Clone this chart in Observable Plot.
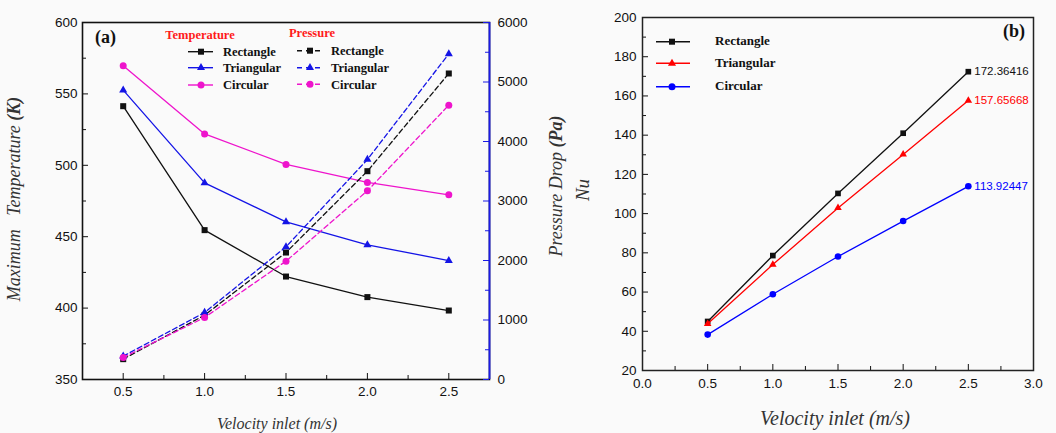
<!DOCTYPE html>
<html><head><meta charset="utf-8">
<script src="https://cdn.jsdelivr.net/npm/d3@7"></script>
<script src="https://cdn.jsdelivr.net/npm/@observablehq/plot@0.6"></script>
<style>
body{margin:0;background:#fafafa;}
#wrap{position:relative;width:1056px;height:433px;overflow:hidden;}
.abs{position:absolute;}
#over{position:absolute;left:0;top:0;pointer-events:none;}
</style></head><body>
<div id="wrap">
  <div id="pa" class="abs" style="left:0;top:0;width:532px;height:433px;overflow:hidden"></div>
  <div id="pb" class="abs" style="left:530px;top:0;width:526px;height:433px"></div>
</div>
<script>
// ---------- data ----------
const velocity = [0.5, 1.0, 1.5, 2.0, 2.5];
const shapes = ["Rectangle", "Triangular", "Circular"];

const tempRect = [541.4, 454.6, 422.1, 407.7, 398.3];
const tempTri  = [552.6, 487.7, 460.4, 444.3, 433.3];
const tempCirc = [569.7, 522.0, 500.6, 488.0, 479.3];

const presRect = [342, 1081, 2134, 3501, 5143];
const presTri  = [392, 1126, 2230, 3697, 5473];
const presCirc = [370, 1042, 1989, 3171, 4611];

const nuRect = [45.0, 78.6, 110.3, 141.0, 172.36416];
const nuTri  = [43.8, 74.0, 102.9, 130.2, 157.65668];
const nuCirc = [38.3, 58.9, 78.1, 96.2, 113.92447];

const xTicksA = [0.5, 1.0, 1.5, 2.0, 2.5];
const xMinorA = [0.75, 1.25, 1.75, 2.25];
const tempTicks = [350, 400, 450, 500, 550, 600];
const tempMinor = [375, 425, 475, 525, 575];
const presTicks = [0, 1000, 2000, 3000, 4000, 5000, 6000];
const presMinor = [500, 1500, 2500, 3500, 4500, 5500];
const xTicksB = [0.0, 0.5, 1.0, 1.5, 2.0, 2.5, 3.0];
const xMinorB = [0.25, 0.75, 1.25, 1.75, 2.25, 2.75];
const nuTicks = [20, 40, 60, 80, 100, 120, 140, 160, 180, 200];
const nuMinor = [30, 50, 70, 90, 110, 130, 150, 170, 190];

// ---------- styles ----------
const symbols = ["square", "triangle", "circle"];
const symR = {square: 3.4, triangle: 3.0, circle: 3.5};
const colorsA = ["#111111", "#1414e6", "#ee14cc"];
const colorsB = ["#111111", "#ff0000", "#0000ff"];
const blue = "#1a1ae6";
const rows = vals => velocity.map((v, i) => ({v, y: vals[i]}));

const baseStyle = {fontFamily: '"Liberation Sans", Arial, sans-serif', fontSize: "13.5px", color: "#111", background: "transparent", overflow: "visible"};

// ---------- panel (a) ----------
const WA = 530, HA = 433, mA = {top: 22, right: 41, bottom: 54, left: 82};
const fwA = WA - mA.left - mA.right, fhA = HA - mA.top - mA.bottom;
const xDomainA = [0.25, 2.75];

const tempSeries = [tempRect, tempTri, tempCirc];
const presSeries = [presRect, presTri, presCirc];

const plotA = Plot.plot({
  width: WA, height: HA,
  marginTop: mA.top, marginRight: mA.right, marginBottom: mA.bottom, marginLeft: mA.left,
  x: {domain: xDomainA}, y: {domain: [350, 600]},
  style: baseStyle,
  marks: [
    Plot.axisX({ticks: xTicksA, tickSize: 0, tickPadding: 7, tickFormat: d3.format(".1f"), label: null}),
    Plot.axisY({ticks: tempTicks, tickSize: 0, tickPadding: 5, label: null}),
    Plot.tickY(tempTicks, {y: d => d, insetRight: fwA - 6, stroke: "#111"}),
    Plot.tickY(tempMinor, {y: d => d, insetRight: fwA - 4, stroke: "#111"}),
    Plot.tickX(xTicksA, {x: d => d, insetTop: fhA - 6, stroke: "#111"}),
    Plot.tickX(xMinorA, {x: d => d, insetTop: fhA - 4, stroke: "#111"}),
    ...tempSeries.flatMap((vals, k) => [
      Plot.line(rows(vals), {x: "v", y: "y", stroke: colorsA[k], strokeWidth: 1.3}),
      Plot.dot(rows(vals), {x: "v", y: "y", symbol: symbols[k], r: symR[symbols[k]], fill: colorsA[k]})
    ]),
    Plot.frame({stroke: "#111", strokeWidth: 1.6})
  ]
});

const plotA2 = Plot.plot({
  width: WA, height: HA,
  marginTop: mA.top, marginRight: mA.right, marginBottom: mA.bottom, marginLeft: mA.left,
  x: {domain: xDomainA, axis: null}, y: {domain: [0, 6000]},
  style: baseStyle,
  marks: [
    Plot.axisY({anchor: "right", ticks: presTicks, tickSize: 0, tickPadding: 8, tickFormat: d3.format("d"), label: null}),
    Plot.tickY(presTicks, {y: d => d, insetLeft: fwA - 6, stroke: blue}),
    Plot.tickY(presMinor, {y: d => d, insetLeft: fwA - 4, stroke: blue}),
    ...presSeries.flatMap((vals, k) => [
      Plot.line(rows(vals), {x: "v", y: "y", stroke: colorsA[k], strokeWidth: 1.3, strokeDasharray: "5,3"}),
      Plot.dot(rows(vals), {x: "v", y: "y", symbol: symbols[k], r: symR[symbols[k]], fill: colorsA[k]})
    ]),
    Plot.ruleX([xDomainA[1]], {stroke: blue, strokeWidth: 1.8})
  ]
});
plotA.style.position = "absolute"; plotA.style.left = "0"; plotA.style.top = "0";
plotA2.style.position = "absolute"; plotA2.style.left = "0"; plotA2.style.top = "0";
document.getElementById("pa").append(plotA, plotA2);

// ---------- panel (b) ----------
const WB = 526, HB = 433, mB = {top: 17, right: 23, bottom: 63, left: 112};
const fwB = WB - mB.left - mB.right, fhB = HB - mB.top - mB.bottom;
const nuSeries = [nuRect, nuTri, nuCirc];

const plotB = Plot.plot({
  width: WB, height: HB,
  marginTop: mB.top, marginRight: mB.right, marginBottom: mB.bottom, marginLeft: mB.left,
  x: {domain: [0, 3]}, y: {domain: [20, 200]},
  style: baseStyle,
  marks: [
    Plot.axisX({ticks: xTicksB, tickSize: 0, tickPadding: 8, tickFormat: d3.format(".1f"), label: null}),
    Plot.axisY({ticks: nuTicks, tickSize: 0, tickPadding: 6, label: null}),
    Plot.tickY(nuTicks, {y: d => d, insetRight: fwB - 6, stroke: "#111"}),
    Plot.tickY(nuMinor, {y: d => d, insetRight: fwB - 4, stroke: "#111"}),
    Plot.tickX(xTicksB, {x: d => d, insetTop: fhB - 6, stroke: "#111"}),
    Plot.tickX(xMinorB, {x: d => d, insetTop: fhB - 4, stroke: "#111"}),
    ...nuSeries.flatMap((vals, k) => {
      const r = rows(vals);
      return [
        Plot.line(r, {x: "v", y: "y", stroke: colorsB[k], strokeWidth: 1.3}),
        Plot.dot(r, {x: "v", y: "y", symbol: symbols[k], r: symR[symbols[k]] - 0.2, fill: colorsB[k]}),
        Plot.text(r.slice(-1), {x: "v", y: "y", text: d => String(d.y), dx: 6, textAnchor: "start", fill: colorsB[k], fontSize: 11.5})
      ];
    }),
    Plot.frame({stroke: "#222", strokeWidth: 1.5})
  ]
});
document.getElementById("pb").append(plotB);

// ---------- overlay: titles & legends ----------
const svg = d3.select("#wrap").append("svg").attr("id", "over").attr("width", 1056).attr("height", 433);
const serif = '"Liberation Serif", "Times New Roman", serif';

function title(x, y, parts, rotate, size) {
  const t = svg.append("text")
    .attr("transform", `translate(${x},${y})` + (rotate ? " rotate(-90)" : ""))
    .attr("text-anchor", "middle").attr("font-family", serif).attr("font-size", size || 18)
    .attr("font-style", "italic").attr("fill", "#333").style("white-space", "pre");
  parts.forEach(([s, bold]) => t.append("tspan").attr("font-weight", bold ? "bold" : "normal").text(s));
}
title(20, 199, [["Maximum   Temperature ", false], ["(K)", true]], true);
title(562, 186, [["Pressure Drop ", false], ["(Pa)", true]], true);
title(589, 190, [["Nu", false]], true, 19);
title(277, 429, [["Velocity inlet (m/s)", false]], false, 16);
title(835, 425, [["Velocity inlet (m/s)", false]], false, 20);

svg.append("text").attr("x", 95).attr("y", 43).attr("font-family", serif).attr("font-weight", "bold")
  .attr("font-size", 18).attr("fill", "#111").text("(a)");
svg.append("text").attr("x", 1003).attr("y", 37).attr("font-family", serif).attr("font-weight", "bold")
  .attr("font-size", 18).attr("fill", "#111").text("(b)");

svg.append("text").attr("x", 200).attr("y", 39).attr("text-anchor", "middle").attr("font-family", serif)
  .attr("font-weight", "bold").attr("font-size", 12.5).attr("fill", "#ff1a1a").text("Temperature");
svg.append("text").attr("x", 312).attr("y", 37).attr("text-anchor", "middle").attr("font-family", serif)
  .attr("font-weight", "bold").attr("font-size", 12.5).attr("fill", "#ff1a1a").text("Pressure");

function legendRow(x0, x1, xm, y, color, sym, dashed, label, xl, fs, dy) {
  svg.append("line").attr("x1", x0).attr("x2", x1).attr("y1", y).attr("y2", y)
    .attr("stroke", color).attr("stroke-width", 1.4).attr("stroke-dasharray", dashed ? "5,4" : null);
  const r = symR[sym];
  const type = sym === "square" ? d3.symbolSquare : sym === "triangle" ? d3.symbolTriangle : d3.symbolCircle;
  svg.append("path").attr("d", d3.symbol(type, r * r * Math.PI)()).attr("transform", `translate(${xm},${y})`).attr("fill", color);
  svg.append("text").attr("x", xl).attr("y", y + dy).attr("font-family", serif).attr("font-weight", "bold")
    .attr("font-size", fs).attr("fill", "#111").text(label);
}
const rowYA1 = [51.7, 67.7, 85];
const rowYA2 = [50.7, 67.7, 84.3];
const rowYB = [41.7, 63.3, 86.7];
shapes.forEach((s, k) => {
  legendRow(188, 213, 201, rowYA1[k], colorsA[k], symbols[k], false, s, 223, 12.5, 4.3);
  legendRow(297, 320, 310, rowYA2[k], colorsA[k], symbols[k], true, s, 331, 12.5, 4.3);
  legendRow(656, 690, 672, rowYB[k], colorsB[k], symbols[k], false, s, 715, 13, 3.5);
});
</script>
</body></html>
